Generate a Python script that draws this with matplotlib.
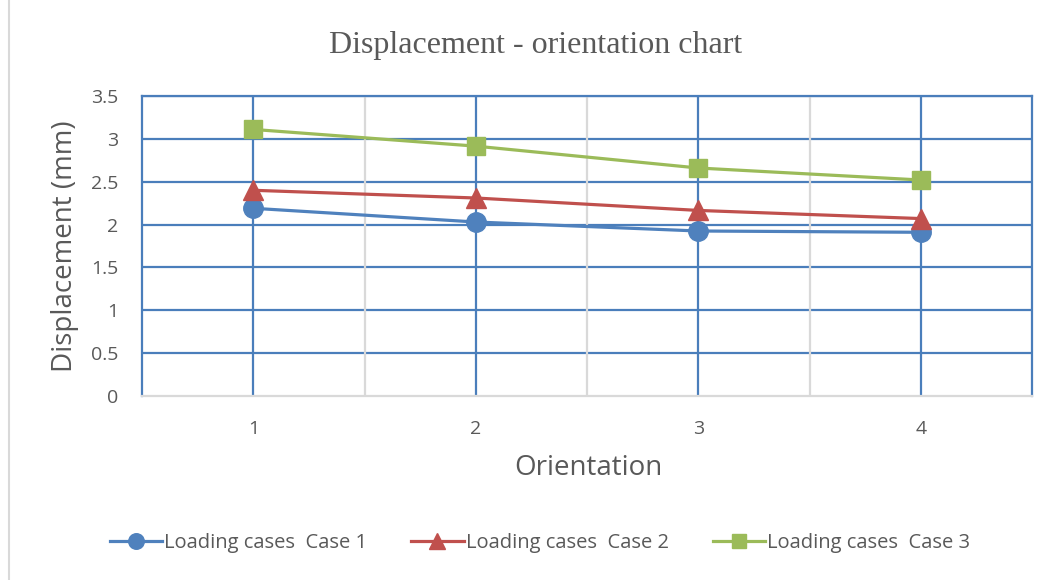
import matplotlib.pyplot as plt
from matplotlib.patches import Rectangle

# data
orientation = [1, 2, 3, 4]
case1 = [2.19, 2.03, 1.925, 1.91]
case2 = [2.40, 2.31, 2.165, 2.07]
case3 = [3.11, 2.915, 2.66, 2.52]
labels = ['Loading cases  Case 1', 'Loading cases  Case 2', 'Loading cases  Case 3']
yticks = [0, 0.5, 1, 1.5, 2, 2.5, 3, 3.5]

blue = '#4f81bd'
red = '#c0504d'
green = '#9bbb59'
gridblue = '#4a7ebb'
txt = '#595959'

fig = plt.figure(figsize=(10.58, 5.80), dpi=100)
ax = fig.add_axes([142/1058, 1-396/580, (1032-142)/1058, 300/580])

# outer chart frame
fig.patches.append(Rectangle((9/1058, -0.01), 1.1, 1.1, transform=fig.transFigure,
                             fill=False, edgecolor='#d9d9d9', lw=1.5))

ax.plot(orientation, case1, color=blue, lw=2.3, marker='o', ms=14, label=labels[0])
ax.plot(orientation, case2, color=red, lw=2.3, marker='^', ms=14, label=labels[1])
ax.plot(orientation, case3, color=green, lw=2.3, marker='s', ms=13, label=labels[2])

ax.set_xlim(0.5, 4.5)
ax.set_ylim(0, 3.5)
ax.set_yticks(yticks)
ax.set_yticklabels(['0', '0.5', '1', '1.5', '2', '2.5', '3', '3.5'])
ax.set_xticks(orientation)

for y in yticks[1:]:
    ax.axhline(y, color=gridblue, lw=1.6, zorder=0)
for x in orientation:
    ax.axvline(x, color=gridblue, lw=1.6, zorder=0)
for x in [1.5, 2.5, 3.5]:
    ax.axvline(x, color='#d9d9d9', lw=1.6, zorder=0)

for s in ['left', 'top', 'right']:
    ax.spines[s].set_color(gridblue)
    ax.spines[s].set_linewidth(1.6)
ax.spines['bottom'].set_color('#d9d9d9')
ax.spines['bottom'].set_linewidth(1.6)

ax.tick_params(length=0, labelsize=14, labelcolor=txt, pad=17)
for t in ax.get_xticklabels() + ax.get_yticklabels():
    t.set_fontfamily('Open Sans')

fig.text(588/1058, 1-468/580, 'Orientation', fontsize=20, color=txt,
         family='Open Sans', ha='center', va='center')
fig.text(65/1058, 1-246/580, 'Displacement (mm)', fontsize=20, color=txt,
         family='Open Sans', ha='center', va='center', rotation=90)
fig.text(536/1058, 1-45/580, 'Displacement - orientation chart', fontsize=23,
         color=txt, family='Liberation Serif', ha='center', va='center')

fig.legend(loc='center', bbox_to_anchor=(540/1058, 1-543/580), ncol=3, frameon=False,
           prop={'family': 'Open Sans', 'size': 14.5}, labelcolor=txt,
           handlelength=2.6, handletextpad=0.1, columnspacing=2.2, markerscale=0.8)

fig.savefig('out.png', dpi=100)
